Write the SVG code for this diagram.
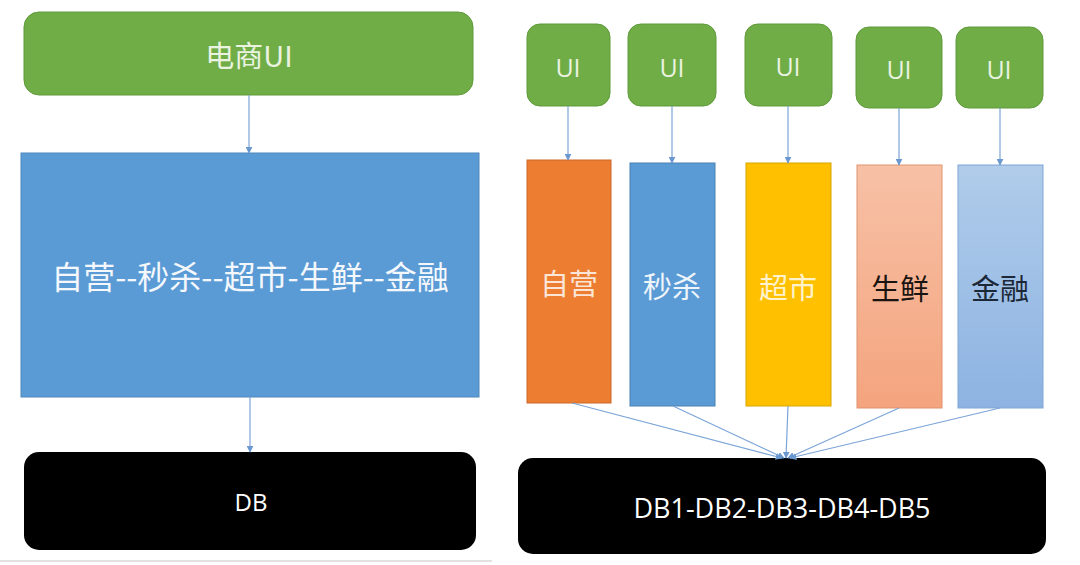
<svg xmlns="http://www.w3.org/2000/svg" width="1080" height="565" viewBox="0 0 1080 565">
<defs>
<marker id="ah" viewBox="0 0 10 10" refX="9" refY="5" markerWidth="7" markerHeight="7" markerUnits="userSpaceOnUse" orient="auto">
<path d="M0,0 L10,5 L0,10 z" fill="#6A98CF"/>
</marker>
<linearGradient id="gSal" x1="0" y1="0" x2="0" y2="1">
<stop offset="0" stop-color="#F7C1A6"/>
<stop offset="1" stop-color="#F4A47E"/>
</linearGradient>
<linearGradient id="gBlu" x1="0" y1="0" x2="0" y2="1">
<stop offset="0" stop-color="#B0CCEA"/>
<stop offset="1" stop-color="#8DB3E2"/>
</linearGradient>
</defs>
<style>
.ui{fill:#70AD47;stroke:#5E9A3A;stroke-width:1}
.db{fill:#000}
.col{stroke-width:1}
.t{font-family:"Noto Sans CJK SC","Noto Sans",sans-serif;text-anchor:middle;dominant-baseline:central}
.lat{font-family:"Open Sans","Noto Sans",sans-serif;text-anchor:middle;dominant-baseline:central}
.c{stroke:#7CA5D8;stroke-width:1.2;fill:none;marker-end:url(#ah)}
</style>
<rect width="1080" height="565" fill="#fff"/>
<line x1="0" y1="561" x2="492" y2="561" stroke="#e2e2e2" stroke-width="2"/>

<g id="left-ui">
<rect class="ui" x="24" y="12" width="449" height="83" rx="15"/>
<text class="t" x="249" y="54" font-size="29" fill="#EAF3E0">电商UI</text>
</g>
<g id="left-svc">
<rect x="21" y="153" width="458" height="244" fill="#5B9BD5" stroke="#4E87BD" stroke-width="1"/>
<text class="t" x="250" y="275" font-size="32" fill="#F4F8FC">自营--秒杀--超市-生鲜--金融</text>
</g>
<g id="left-db">
<rect class="db" x="24" y="452" width="452" height="98" rx="15"/>
<text class="lat" x="251" y="501" font-size="24" fill="#fff">DB</text>
</g>

<g id="ui1"><rect class="ui" x="527" y="24" width="83" height="82" rx="13"/><text class="lat" x="568" y="67" font-size="25" fill="#EAF3E0">UI</text></g>
<g id="ui2"><rect class="ui" x="628" y="24" width="88" height="82" rx="13"/><text class="lat" x="672" y="67" font-size="25" fill="#EAF3E0">UI</text></g>
<g id="ui3"><rect class="ui" x="745" y="24" width="87" height="82" rx="13"/><text class="lat" x="788" y="66" font-size="25" fill="#EAF3E0">UI</text></g>
<g id="ui4"><rect class="ui" x="856" y="27" width="86" height="81" rx="13"/><text class="lat" x="899" y="69" font-size="25" fill="#EAF3E0">UI</text></g>
<g id="ui5"><rect class="ui" x="956" y="27" width="87" height="81" rx="13"/><text class="lat" x="999" y="69" font-size="25" fill="#EAF3E0">UI</text></g>

<g id="col1"><rect class="col" x="527" y="160" width="84" height="243" fill="#ED7D31" stroke="#C9692A"/><text class="t" x="569" y="282" font-size="29" fill="#FBE5D6">自营</text></g>
<g id="col2"><rect class="col" x="630" y="163" width="85" height="243" fill="#5B9BD5" stroke="#4A80B2"/><text class="t" x="672" y="285" font-size="29" fill="#EEF5FB">秒杀</text></g>
<g id="col3"><rect class="col" x="746" y="163" width="85" height="243" fill="#FFC000" stroke="#D9A400"/><text class="t" x="788" y="286" font-size="29" fill="#FFF2CC">超市</text></g>
<g id="col4"><rect class="col" x="857" y="165" width="85" height="243" fill="url(#gSal)" stroke="#E0936C"/><text class="t" x="900" y="287" font-size="29" fill="#1A1410">生鲜</text></g>
<g id="col5"><rect class="col" x="958" y="165" width="85" height="243" fill="url(#gBlu)" stroke="#7EA6D6"/><text class="t" x="1000" y="287" font-size="29" fill="#1C2838">金融</text></g>

<g id="right-db">
<rect class="db" x="518" y="458" width="528" height="96" rx="15"/>
<text class="lat" x="782" y="507" font-size="27" fill="#fff">DB1-DB2-DB3-DB4-DB5</text>
</g>

<g id="connectors">
<line class="c" x1="249" y1="95" x2="249" y2="153"/>
<line class="c" x1="250" y1="397" x2="250" y2="452"/>
<line class="c" x1="568" y1="106" x2="568" y2="160"/>
<line class="c" x1="672" y1="106" x2="672" y2="163"/>
<line class="c" x1="788" y1="106" x2="788" y2="163"/>
<line class="c" x1="899" y1="108" x2="899" y2="165"/>
<line class="c" x1="1000" y1="108" x2="1000" y2="165"/>
<line class="c" x1="572" y1="403" x2="782" y2="458"/>
<line class="c" x1="673" y1="406" x2="784" y2="458"/>
<line class="c" x1="788" y1="406" x2="786" y2="458"/>
<line class="c" x1="899" y1="408" x2="788" y2="458"/>
<line class="c" x1="1000" y1="408" x2="790" y2="458"/>
</g>
</svg>
